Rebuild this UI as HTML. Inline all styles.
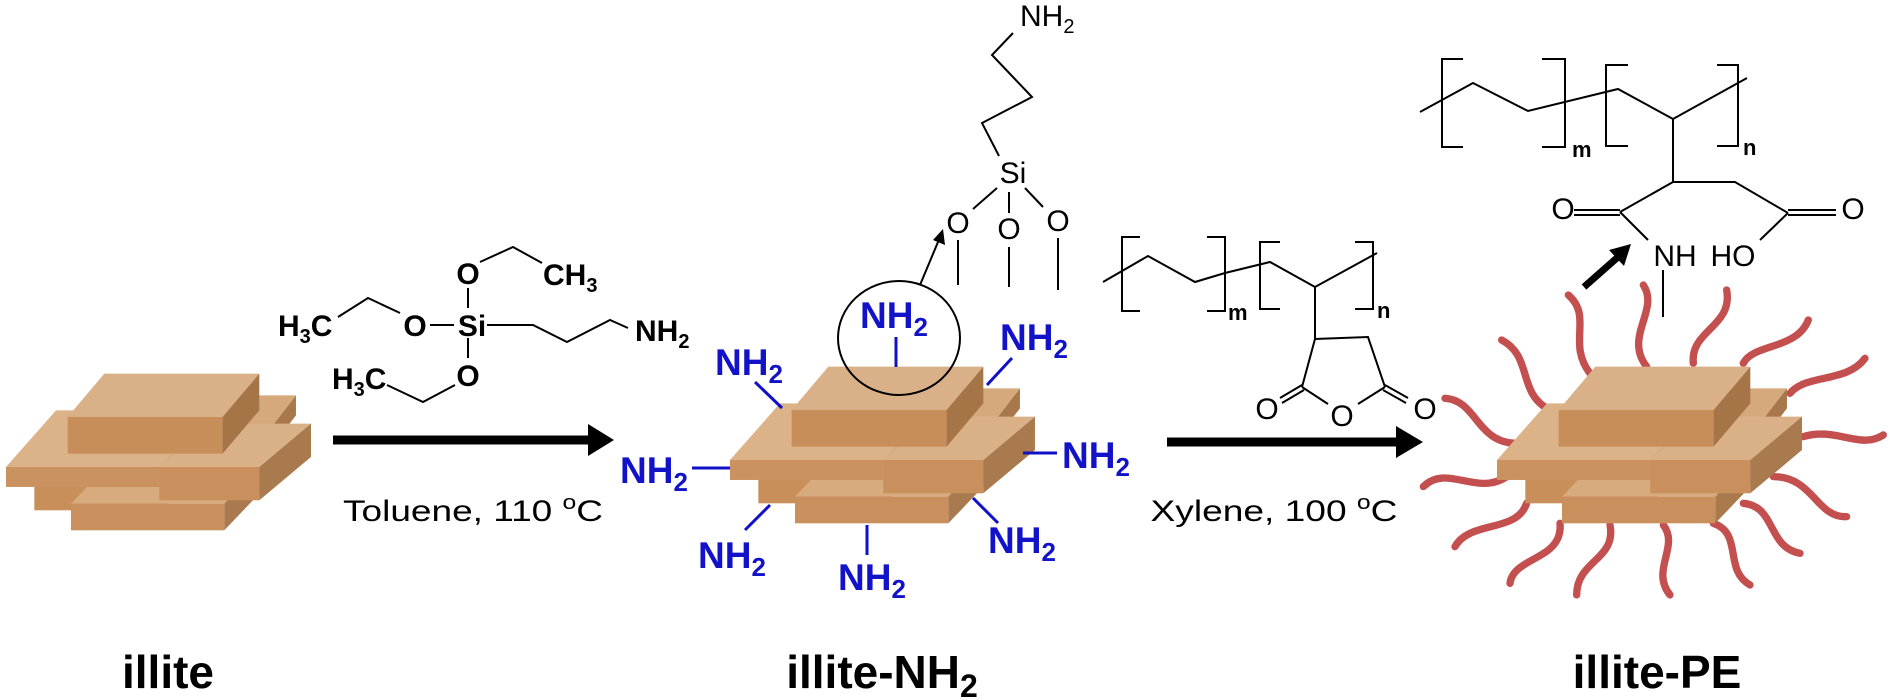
<!DOCTYPE html>
<html><head><meta charset="utf-8"><style>
html,body{margin:0;padding:0;background:#fff;}
svg{display:block;}
text{font-family:"Liberation Sans",Arial,sans-serif;}
</style></head><body>
<svg width="1890" height="700" viewBox="0 0 1890 700" xmlns="http://www.w3.org/2000/svg">
<defs>
<g id="blk">
  <!-- E -->
  <polygon points="415,630 815,630 925,500 525,500" fill="#d8ab7f"/>
  <rect x="415" y="630" width="400" height="70" fill="#c88f5b"/>
  <!-- F -->
  <polygon points="525,680 985,680 1090,570 630,570" fill="#d8ab7f"/>
  <rect x="525" y="680" width="460" height="80" fill="#c98f5c"/>
  <polygon points="985,680 1090,570 1090,650 985,760" fill="#a97a4e"/>
  <!-- B -->
  <polygon points="800,485 1100,485 1200,355 900,355" fill="#d6a97c"/>
  <polygon points="1100,485 1200,355 1200,415 1100,545" fill="#a8784c"/>
  <!-- C -->
  <polygon points="330,570 790,570 940,400 480,400" fill="#dcb388"/>
  <rect x="330" y="570" width="460" height="60" fill="#c99260"/>
  <!-- D -->
  <polygon points="790,570 1090,570 1245,440 945,440" fill="#dab186"/>
  <rect x="790" y="570" width="300" height="100" fill="#c98f5c"/>
  <polygon points="1090,570 1245,440 1245,540 1090,670" fill="#a97a4e"/>
  <!-- A -->
  <polygon points="515,420 980,420 1090,290 625,290" fill="#d9b087"/>
  <rect x="515" y="420" width="465" height="110" fill="#c88e5a"/>
  <polygon points="980,420 1090,290 1090,400 980,530" fill="#a57548"/>
</g>
</defs>

<!-- illite block -->
<g transform="translate(-104,277) scale(0.3333)"><use href="#blk"/></g>
<!-- illite-NH2 block -->
<g transform="translate(620,270) scale(0.3333)"><use href="#blk"/></g>

<!-- red chains for PE -->
<g transform="translate(1420,270) scale(0.3333)" fill="none" stroke="#c44f4f" stroke-width="22" stroke-linecap="round">
  <path d="M445,75 C520,140 440,220 510,310"/>
  <path d="M670,45 C720,120 610,200 680,290"/>
  <path d="M920,60 C940,170 810,180 820,280"/>
  <path d="M1165,150 C1130,240 1000,220 970,280"/>
  <path d="M1335,265 C1280,340 1160,310 1110,370"/>
  <path d="M1390,495 C1320,540 1250,470 1150,500"/>
  <path d="M1280,740 C1190,745 1180,620 1060,620"/>
  <path d="M1140,850 C1040,830 1070,710 970,700"/>
  <path d="M990,945 C910,900 970,790 880,760"/>
  <path d="M750,975 C690,900 780,830 730,765"/>
  <path d="M470,975 C470,870 590,870 570,765"/>
  <path d="M270,940 C280,860 430,870 420,760"/>
  <path d="M105,830 C150,750 290,790 320,700"/>
  <path d="M10,650 C80,580 170,680 260,620"/>
  <path d="M75,385 C170,390 170,520 290,520"/>
  <path d="M245,210 C340,260 290,370 390,420"/>
</g>
<!-- illite-PE block -->
<g transform="translate(1387,270) scale(0.3333)"><use href="#blk"/></g>

<!-- Arrows -->
<line x1="333" y1="440" x2="592" y2="440" stroke="#000" stroke-width="9"/>
<polygon points="588,424 614,440 588,456" fill="#000"/>
<line x1="1167" y1="442" x2="1400" y2="442" stroke="#000" stroke-width="9"/>
<polygon points="1396,426 1423,442 1396,458" fill="#000"/>

<g font-size="30" fill="#000">
<text x="473" y="521" text-anchor="middle" textLength="260" lengthAdjust="spacingAndGlyphs">Toluene, 110 <tspan font-size="20" dy="-12">o</tspan><tspan dy="12">C</tspan></text>
<text x="1274" y="521" text-anchor="middle" textLength="247" lengthAdjust="spacingAndGlyphs">Xylene, 100 <tspan font-size="20" dy="-12">o</tspan><tspan dy="12">C</tspan></text>
</g>

<!-- Silane -->
<g stroke="#000" stroke-width="2" fill="none">
  <polyline points="338,317 368,298 400,313"/>
  <line x1="430" y1="325" x2="454" y2="325"/>
  <line x1="468" y1="288" x2="468" y2="308"/>
  <line x1="468" y1="338" x2="468" y2="358"/>
  <polyline points="480,262 513,247 542,263"/>
  <polyline points="487,325 533,325 567,342 610,320 628,328"/>
  <polyline points="387,385 423,402 455,385"/>
</g>
<g font-size="30" font-weight="bold" fill="#000">
  <text x="278" y="336">H<tspan font-size="20" dy="7">3</tspan><tspan dy="-7">C</tspan></text>
  <text x="415" y="336" text-anchor="middle">O</text>
  <text x="472" y="336" text-anchor="middle">Si</text>
  <text x="468" y="284" text-anchor="middle">O</text>
  <text x="468" y="386" text-anchor="middle">O</text>
  <text x="543" y="285">CH<tspan font-size="20" dy="7">3</tspan></text>
  <text x="635" y="341">NH<tspan font-size="20" dy="7">2</tspan></text>
  <text x="332" y="389">H<tspan font-size="20" dy="7">3</tspan><tspan dy="-7">C</tspan></text>
</g>

<!-- Blue NH2 -->
<g stroke="#1010c8" stroke-width="3">
  <line x1="896" y1="337" x2="896" y2="367"/>
  <line x1="755" y1="382" x2="782" y2="408"/>
  <line x1="1012" y1="358" x2="987" y2="385"/>
  <line x1="692" y1="468" x2="730" y2="468"/>
  <line x1="1023" y1="453" x2="1057" y2="453"/>
  <line x1="770" y1="505" x2="745" y2="530"/>
  <line x1="867" y1="525" x2="867" y2="555"/>
  <line x1="973" y1="498" x2="998" y2="523"/>
</g>
<g font-size="37" font-weight="bold" fill="#1212c8">
  <text x="860" y="328">NH<tspan font-size="26" dy="8">2</tspan></text>
  <text x="715" y="375">NH<tspan font-size="26" dy="8">2</tspan></text>
  <text x="1000" y="350">NH<tspan font-size="26" dy="8">2</tspan></text>
  <text x="620" y="483">NH<tspan font-size="26" dy="8">2</tspan></text>
  <text x="1062" y="468">NH<tspan font-size="26" dy="8">2</tspan></text>
  <text x="698" y="568">NH<tspan font-size="26" dy="8">2</tspan></text>
  <text x="838" y="590">NH<tspan font-size="26" dy="8">2</tspan></text>
  <text x="988" y="553">NH<tspan font-size="26" dy="8">2</tspan></text>
</g>
<ellipse cx="899" cy="338" rx="61" ry="57" fill="none" stroke="#000" stroke-width="2"/>

<!-- Upper aminopropyl-Si structure -->
<g stroke="#000" stroke-width="2" fill="none">
  <polyline points="1013,33 992,55 1032,97 982,123 999,156"/>
  <line x1="997" y1="188" x2="973" y2="209"/>
  <line x1="1009" y1="192" x2="1009" y2="213"/>
  <line x1="1025" y1="188" x2="1043" y2="207"/>
  <line x1="958" y1="240" x2="958" y2="285"/>
  <line x1="1009" y1="247" x2="1009" y2="287"/>
  <line x1="1058" y1="238" x2="1058" y2="290"/>
  <line x1="920" y1="285" x2="938" y2="242"/>
</g>
<polygon points="943,229 945,245 933,240" fill="#000"/>
<g font-size="30" fill="#000">
  <text x="1020" y="26">NH<tspan font-size="20" dy="7">2</tspan></text>
  <text x="1013" y="183" text-anchor="middle">Si</text>
  <text x="958" y="233" text-anchor="middle">O</text>
  <text x="1009" y="239" text-anchor="middle">O</text>
  <text x="1058" y="231" text-anchor="middle">O</text>
</g>

<!-- Middle polymer (PE-g-MA) -->
<g stroke="#000" stroke-width="2" fill="none">
  <polyline points="1103,282 1148,256 1195,282 1225,273 1270,262 1315,287 1377,253"/>
  <polyline points="1140,237 1122,237 1122,311 1140,311"/>
  <polyline points="1207,237 1225,237 1225,311 1207,311"/>
  <polyline points="1280,242 1260,242 1260,309 1280,309"/>
  <polyline points="1355,242 1373,242 1373,309 1355,309"/>
  <line x1="1315" y1="287" x2="1315" y2="339"/>
  <polyline points="1302,387 1315,339 1368,337 1385,387"/>
  <line x1="1302" y1="387" x2="1328" y2="404"/>
  <line x1="1385" y1="387" x2="1358" y2="404"/>
  <line x1="1302" y1="385" x2="1280" y2="398"/>
  <line x1="1304" y1="390" x2="1282" y2="403"/>
  <line x1="1385" y1="385" x2="1408" y2="398"/>
  <line x1="1383" y1="390" x2="1406" y2="403"/>
</g>
<g font-size="30" fill="#000">
  <text x="1267" y="419" text-anchor="middle">O</text>
  <text x="1342" y="426" text-anchor="middle">O</text>
  <text x="1425" y="419" text-anchor="middle">O</text>
  <text x="1228" y="320" font-size="22" font-weight="bold">m</text>
  <text x="1377" y="318" font-size="22" font-weight="bold">n</text>
</g>

<!-- Right polymer (grafted) -->
<g stroke="#000" stroke-width="2" fill="none">
  <polyline points="1420,112 1473,83 1528,111 1618,89 1673,119 1747,78"/>
  <polyline points="1463,59 1442,59 1442,147 1463,147"/>
  <polyline points="1542,59 1565,59 1565,147 1542,147"/>
  <polyline points="1628,65 1606,65 1606,146 1628,146"/>
  <polyline points="1717,65 1738,65 1738,146 1717,146"/>
  <line x1="1673" y1="119" x2="1673" y2="182"/>
  <polyline points="1620,212 1673,182 1735,182 1788,213"/>
  <line x1="1574" y1="210" x2="1620" y2="210"/>
  <line x1="1574" y1="215" x2="1620" y2="215"/>
  <line x1="1788" y1="210" x2="1836" y2="210"/>
  <line x1="1788" y1="215" x2="1836" y2="215"/>
  <line x1="1620" y1="212" x2="1648" y2="240"/>
  <line x1="1788" y1="213" x2="1760" y2="240"/>
  <line x1="1663" y1="270" x2="1663" y2="317"/>
</g>
<line x1="1584" y1="287" x2="1618" y2="257" stroke="#000" stroke-width="7"/>
<polygon points="1631,244 1624,266 1609,250" fill="#000"/>
<g font-size="30" fill="#000">
  <text x="1563" y="219" text-anchor="middle">O</text>
  <text x="1853" y="219" text-anchor="middle">O</text>
  <text x="1675" y="266" text-anchor="middle">NH</text>
  <text x="1733" y="266" text-anchor="middle">HO</text>
  <text x="1572" y="157" font-size="22" font-weight="bold">m</text>
  <text x="1743" y="155" font-size="22" font-weight="bold">n</text>
</g>

<!-- Labels -->
<g font-size="46" font-weight="bold" fill="#000" text-anchor="middle">
  <text x="168" y="688">illite</text>
  <text x="882" y="688">illite-NH<tspan font-size="32" dy="9">2</tspan></text>
  <text x="1657" y="688">illite-PE</text>
</g>
</svg>
</body></html>
